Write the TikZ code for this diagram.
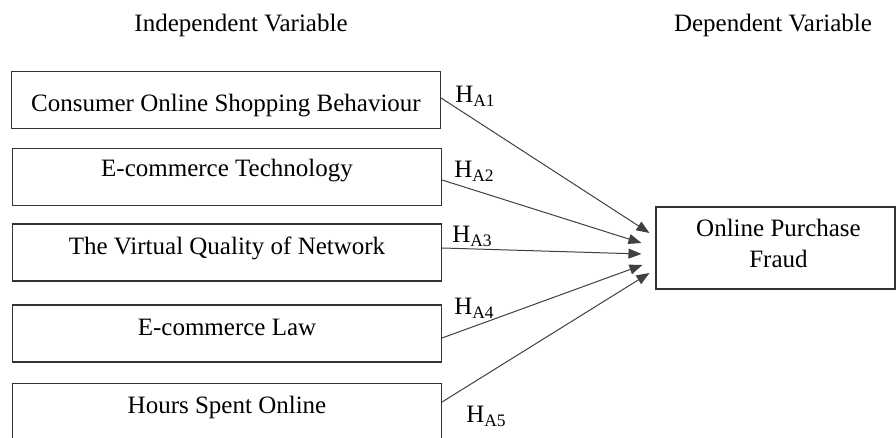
\documentclass[tikz,border=0pt]{standalone}
\usepackage{fontspec}
\setmainfont{Liberation Serif}
\usetikzlibrary{arrows.meta, positioning, calc}

\begin{document}
\begin{tikzpicture}[x=1pt, y=1pt,
        box/.style={draw=black!80, line width=1.1pt, minimum width=429pt, minimum height=57pt, inner sep=0pt},
        txt/.style={font=\fontsize{25}{31}\selectfont, inner sep=0pt},
        hyp/.style={font=\fontsize{25}{31}\selectfont, inner sep=0pt, anchor=base west},
        link/.style={draw=black!75, line width=1pt, -{Triangle[length=13pt, width=10pt]}}
    ]

    \useasboundingbox (0,0) rectangle (896,438);

    % Column headers
    \node[txt] (indep) at (241,413) {Independent Variable};
    \node[txt] (depvar) at (773,413) {Dependent Variable};

    % Boxes for the independent variables
    \node[box] (b1) at (226,338) {};
    \node[box] (b2) at (227,261) {};
    \node[box] (b3) at (227,185.5) {};
    \node[box] (b4) at (227,104.5) {};
    \node[box] (b5) at (227,26) {};

    \node[txt, anchor=base] (t1) at ([yshift=-41pt]b1.north) {Consumer Online Shopping Behaviour};
    \node[txt, anchor=base] (t2) at ([yshift=-29pt]b2.north) {E-commerce Technology};
    \node[txt, anchor=base] (t3) at ([yshift=-31pt]b3.north) {The Virtual Quality of Network};
    \node[txt, anchor=base] (t4) at ([yshift=-31pt]b4.north) {E-commerce Law};
    \node[txt, anchor=base] (t5) at ([yshift=-31pt]b5.north) {Hours Spent Online};

    % Box for the dependent variable
    \node[box, minimum width=239pt, minimum height=82pt] (dep) at (775.5,190) {};
    \node[txt, align=center, anchor=base] (tdep) at ([xshift=3pt, yshift=-61pt]dep.north) {Online Purchase\\Fraud};

    % End points of the arrows
    \coordinate (e1) at ([xshift=-6pt, yshift=15pt]dep.west);
    \coordinate (e2) at ([xshift=-14pt, yshift=5pt]dep.west);
    \coordinate (e3) at ([xshift=-14pt, yshift=-6pt]dep.west);
    \coordinate (e4) at ([xshift=-13pt, yshift=-17pt]dep.west);
    \coordinate (e5) at ([xshift=-6pt, yshift=-25pt]dep.west);

    % Hypotheses
    \draw[link] ([yshift=2pt]b1.east) -- (e1);
    \draw[link] ([yshift=-3pt]b2.east) -- (e2);
    \draw[link] ([yshift=4.5pt]b3.east) -- (e3);
    \draw[link] ([yshift=-4.5pt]b4.east) -- (e4);
    \draw[link] ([yshift=10pt]b5.east) -- (e5);

    \node[hyp] (h1) at ([xshift=14pt, yshift=-3pt]b1.east) {H\textsubscript{A1}};
    \node[hyp] (h2) at ([xshift=12pt, yshift=-1pt]b2.east) {H\textsubscript{A2}};
    \node[hyp] (h3) at ([xshift=10pt, yshift=9.5pt]b3.east) {H\textsubscript{A3}};
    \node[hyp] (h4) at ([xshift=12pt, yshift=18.5pt]b4.east) {H\textsubscript{A4}};
    \node[hyp] (h5) at ([xshift=24pt, yshift=-11pt]b5.east) {H\textsubscript{A5}};

\end{tikzpicture}
\end{document}
